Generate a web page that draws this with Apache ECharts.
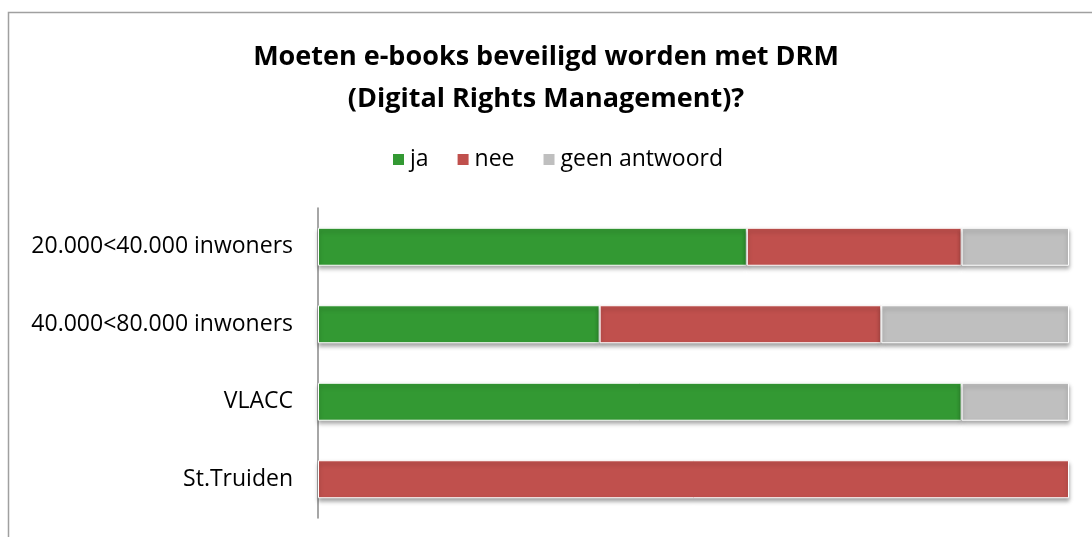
<!DOCTYPE html>
<html>
<head>
<meta charset="utf-8">
<script src="https://cdn.jsdelivr.net/npm/echarts@6/dist/echarts.min.js"></script>
<style>
html,body{margin:0;padding:0;background:#fff;}
#chart{width:1092px;height:537px;}
</style>
</head>
<body>
<div id="chart"></div>
<script>
const categories = ['20.000<40.000 inwoners', '40.000<80.000 inwoners', 'VLACC', 'St.Truiden'];
const seriesNames = ['ja', 'nee', 'geen antwoord'];
const jaValues = [57.1, 37.5, 85.7, null];
const neeValues = [28.6, 37.5, null, 100];
const geenValues = [14.3, 25.0, 14.3, null];
const colors = ['#339933', '#C0504D', '#BFBFBF'];
const titleText = 'Moeten e-books beveiligd worden met DRM\n(Digital Rights Management)?';

const FONT = 'Open Sans';
const chart = echarts.init(document.getElementById('chart'), null, {renderer: 'canvas'});
const barStyle = (c) => ({
  color: c,
  borderColor: '#ffffff',
  borderWidth: 1,
  shadowColor: 'rgba(0,0,0,0.35)',
  shadowBlur: 4,
  shadowOffsetY: 3
});
const dataSets = [jaValues, neeValues, geenValues];
chart.setOption({
  animation: false,
  backgroundColor: '#ffffff',
  graphic: [{
    type: 'rect',
    shape: {x: 8.5, y: 12.5, width: 1100, height: 600},
    style: {fill: 'none', stroke: '#A0A0A0', lineWidth: 1.5},
    silent: true
  }],
  title: {
    text: titleText,
    left: 'center',
    top: 31,
    textStyle: {fontFamily: FONT, fontSize: 27, fontWeight: 'bold', color: '#000', lineHeight: 42}
  },
  legend: {
    top: 143,
    left: 386,
    itemWidth: 13,
    itemHeight: 13,
    itemGap: 27,
    icon: 'rect',
    textStyle: {fontFamily: FONT, fontSize: 23, color: '#000'},
    data: seriesNames
  },
  grid: {left: 318, right: 23, top: 208, bottom: 19, containLabel: false},
  xAxis: {
    type: 'value', min: 0, max: 100, show: false
  },
  yAxis: {
    type: 'category',
    inverse: true,
    data: categories,
    axisLine: {show: true, lineStyle: {color: '#888888', width: 1.5}},
    axisTick: {show: false},
    axisLabel: {fontFamily: FONT, fontSize: 23, color: '#000', margin: 25}
  },
  series: seriesNames.map((n, i) => ({
    name: n,
    type: 'bar',
    stack: 'total',
    barWidth: '49%',
    itemStyle: barStyle(colors[i]),
    data: dataSets[i]
  }))
});
</script>
</body>
</html>
